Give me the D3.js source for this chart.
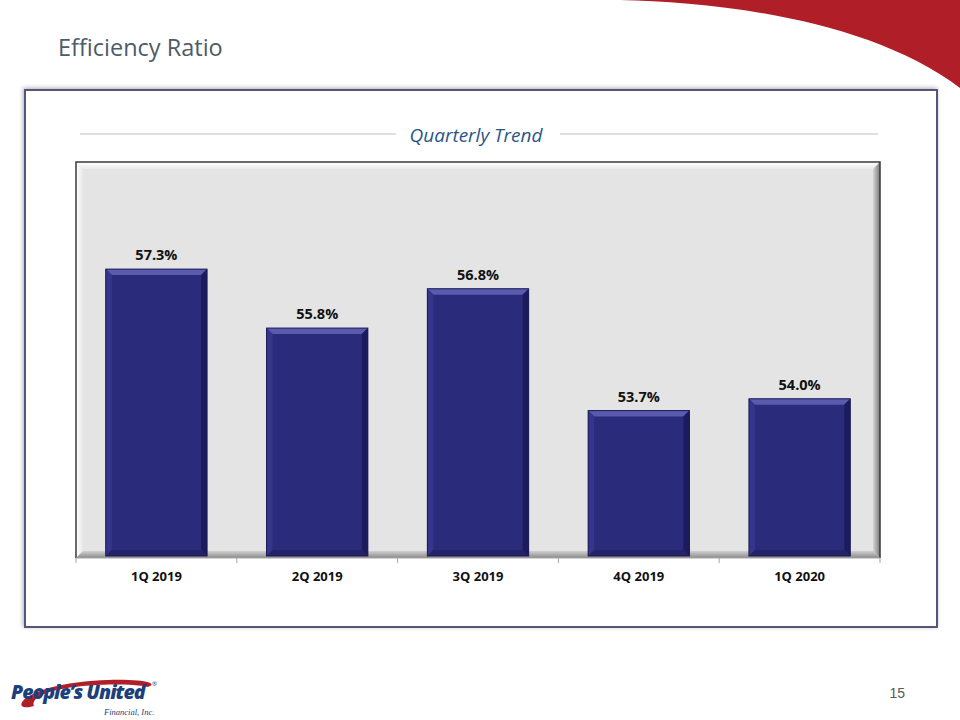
<!DOCTYPE html>
<html><head><meta charset="utf-8">
<script src="https://cdn.jsdelivr.net/npm/d3@7"></script>
<style>body{margin:0;background:#fff}svg{display:block}</style>
</head><body>
<script>
const categories = ["1Q 2019","2Q 2019","3Q 2019","4Q 2019","1Q 2020"];
const values = [57.3, 55.8, 56.8, 53.7, 54.0];
const valueLabels = ["57.3%","55.8%","56.8%","53.7%","54.0%"];
const title = "Efficiency Ratio";
const subtitle = "Quarterly Trend";
const pageNumber = "15";

const W = 960, H = 720;
const svg = d3.select("body").append("svg").attr("width", W).attr("height", H);
const defs = svg.append("defs");

// shadow filter
const f = defs.append("filter").attr("id","sh").attr("x","-5%").attr("y","-5%").attr("width","110%").attr("height","110%");
f.append("feDropShadow").attr("dx",-1).attr("dy",-1).attr("stdDeviation",2).attr("flood-color","#888").attr("flood-opacity",0.7);

// red swoosh
svg.append("path")
  .attr("d","M620,0 C720,2 870,20 960,88 L960,0 Z")
  .attr("fill","#b01e28");

// title
svg.append("text").attr("x",58).attr("y",56).text(title)
  .attr("font-family","'Open Sans', Lato, sans-serif").attr("font-size",23.5)
  .attr("fill","#4d5b69");

// panel
svg.append("rect").attr("x",25).attr("y",90).attr("width",912).attr("height",537)
  .attr("fill","#fff").attr("stroke","#55557a").attr("stroke-width",2).attr("filter","url(#sh)");

// subtitle + lines
svg.append("line").attr("x1",80).attr("x2",396).attr("y1",134).attr("y2",134).attr("stroke","#bfbfbf");
svg.append("line").attr("x1",560).attr("x2",878).attr("y1",134).attr("y2",134).attr("stroke","#bfbfbf");
svg.append("text").attr("x",476).attr("y",142).attr("text-anchor","middle").text(subtitle)
  .attr("font-family","'Open Sans', Lato, sans-serif").attr("font-style","italic").attr("font-size",19)
  .attr("fill","#2a5688");

// plot area
const pl = 76, pr = 880, pt = 162, pb = 558, bev = 7;
const x = d3.scaleBand().domain(categories).range([pl, pr]).paddingInner(0.37).paddingOuter(0.185);
const y = d3.scaleLinear().domain([50, 60]).range([556, 163]);

const plot = svg.append("g");
plot.append("rect").attr("x",pl).attr("y",pt).attr("width",pr-pl).attr("height",pb-pt).attr("fill","#e4e4e4");
const gTop = defs.append("linearGradient").attr("id","gTop").attr("x1",0).attr("y1",0).attr("x2",0).attr("y2",1);
gTop.append("stop").attr("offset",0).attr("stop-color","#ffffff");
gTop.append("stop").attr("offset",1).attr("stop-color","#ebebeb");
const gLeft = defs.append("linearGradient").attr("id","gLeft").attr("x1",0).attr("y1",0).attr("x2",1).attr("y2",0);
gLeft.append("stop").attr("offset",0).attr("stop-color","#ffffff");
gLeft.append("stop").attr("offset",1).attr("stop-color","#e8e8e8");
const gRight = defs.append("linearGradient").attr("id","gRight").attr("x1",0).attr("y1",0).attr("x2",1).attr("y2",0);
gRight.append("stop").attr("offset",0).attr("stop-color","#d6d6d6");
gRight.append("stop").attr("offset",1).attr("stop-color","#7a7a7a");
const gBot = defs.append("linearGradient").attr("id","gBot").attr("x1",0).attr("y1",0).attr("x2",0).attr("y2",1);
gBot.append("stop").attr("offset",0).attr("stop-color","#d0d0d0");
gBot.append("stop").attr("offset",1).attr("stop-color","#8a8a8a");
plot.append("polygon").attr("points",`${pl},${pt} ${pr},${pt} ${pr-bev},${pt+bev} ${pl+bev},${pt+bev}`).attr("fill","url(#gTop)");
plot.append("polygon").attr("points",`${pl},${pt} ${pl+bev},${pt+bev} ${pl+bev},${pb-bev} ${pl},${pb}`).attr("fill","url(#gLeft)");
plot.append("polygon").attr("points",`${pr},${pt} ${pr},${pb} ${pr-bev},${pb-bev} ${pr-bev},${pt+bev}`).attr("fill","url(#gRight)");
plot.append("polygon").attr("points",`${pl},${pb} ${pl+bev},${pb-bev} ${pr-bev},${pb-bev} ${pr},${pb}`).attr("fill","url(#gBot)");
plot.append("path").attr("d",`M${pl},${pb} L${pl},${pt} L${pr},${pt} L${pr},${pb}`)
  .attr("fill","none").attr("stroke","#3a3a3a").attr("stroke-width",1.5);

// bars with bevel
const bb = 6;
const bars = svg.append("g").selectAll("g").data(categories).join("g");
bars.each(function(c, i){
  const g = d3.select(this);
  const x0 = x(c), x1 = x(c) + x.bandwidth();
  const y0 = y(values[i]), y1 = y(50);
  g.append("rect").attr("x",x0).attr("y",y0).attr("width",x1-x0).attr("height",y1-y0)
    .attr("fill","#2b2b7c");
  g.append("polygon").attr("points",`${x0},${y0} ${x1},${y0} ${x1-bb},${y0+bb} ${x0+bb},${y0+bb}`).attr("fill","#5a5aae");
  g.append("polygon").attr("points",`${x0},${y0} ${x0+bb},${y0+bb} ${x0+bb},${y1-bb} ${x0},${y1}`).attr("fill","#35358c");
  g.append("polygon").attr("points",`${x1},${y0} ${x1},${y1} ${x1-bb},${y1-bb} ${x1-bb},${y0+bb}`).attr("fill","#1c1c5c");
  g.append("polygon").attr("points",`${x0},${y1} ${x0+bb},${y1-bb} ${x1-bb},${y1-bb} ${x1},${y1}`).attr("fill","#23236a");
  g.append("rect").attr("x",x0).attr("y",y0).attr("width",x1-x0).attr("height",y1-y0)
    .attr("fill","none").attr("stroke","#1b1b55").attr("stroke-width",1);
  g.append("text").attr("x",(x0+x1)/2).attr("y",y0-9).attr("text-anchor","middle")
    .text(valueLabels[i]).attr("font-family","'Open Sans', Lato, sans-serif").attr("font-weight","bold")
    .attr("font-size",14.5).attr("fill","#111");
});

// x axis
const axis = svg.append("g").attr("transform",`translate(0,${pb})`)
  .call(d3.axisBottom(x).tickSize(0).tickPadding(14));
axis.select(".domain").attr("stroke","#a6a6a6").attr("d",`M${pl},0H${pr}`);
axis.selectAll("text").attr("font-family","'Open Sans', Lato, sans-serif").attr("font-weight","bold")
  .attr("font-size",13).attr("fill","#111");
const bounds = d3.range(categories.length + 1).map(i => pl + i * (pr - pl) / categories.length);
axis.selectAll(".bt").data(bounds).join("line").attr("class","bt")
  .attr("x1",d=>d).attr("x2",d=>d).attr("y1",0).attr("y2",5).attr("stroke","#a6a6a6");

// logo
const logo = svg.append("g");
logo.append("path").attr("d","M34,706 C8,714 18,683 108,680 C148,679 158,684 148,687 C118,681 28,686 34,706 Z")
  .attr("fill","#b01e28");
logo.append("text").attr("x",11).attr("y",699).text("People\u2019s United")
  .attr("font-family","'Open Sans', Lato, sans-serif").attr("font-style","italic").attr("font-weight","800")
  .attr("font-size",19.5).attr("letter-spacing",-1).attr("fill","#1d3f7c");
logo.append("text").attr("x",152).attr("y",686).text("\u00ae").attr("font-size",6).attr("fill","#1d3f7c")
  .attr("font-family","'Open Sans', sans-serif");
logo.append("text").attr("x",104).attr("y",715).text("Financial, Inc.")
  .attr("font-family","'Liberation Serif', serif").attr("font-style","italic").attr("font-size",8.5).attr("fill","#1d3f7c");

// page number
svg.append("text").attr("x",905).attr("y",698).attr("text-anchor","end").text(pageNumber)
  .attr("font-family","'Liberation Sans', Arial, sans-serif").attr("font-size",14).attr("fill","#595959");
</script>
</body></html>
